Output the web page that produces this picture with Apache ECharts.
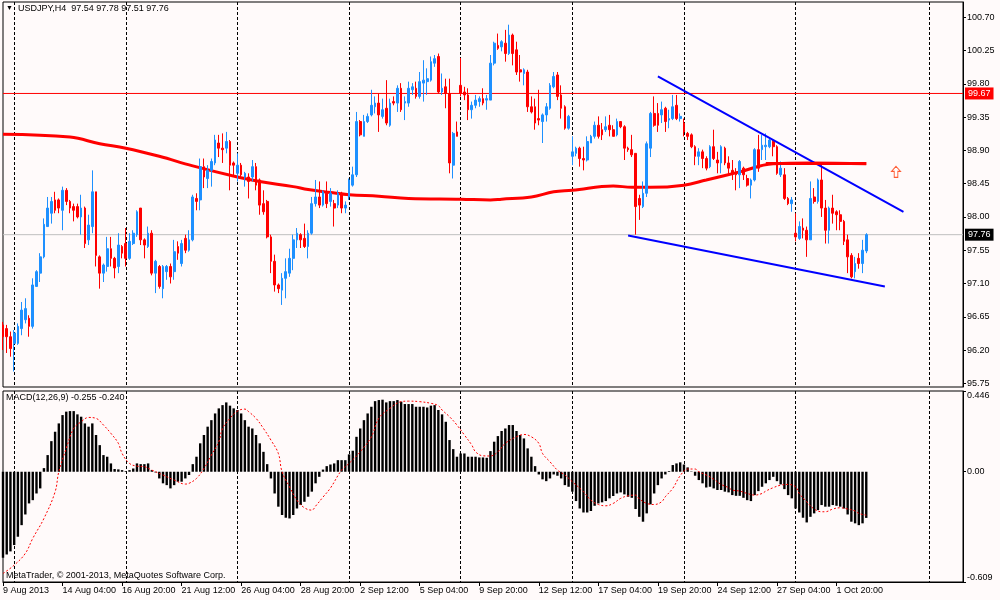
<!doctype html>
<html>
<head>
<meta charset="utf-8">
<title>USDJPY H4</title>
<script src="https://cdn.jsdelivr.net/npm/echarts@6/dist/echarts.min.js"></script>
<style>
  html, body { margin: 0; padding: 0; background: #fffafa; }
  #chart { width: 1000px; height: 600px; }
</style>
</head>
<body>
<div id="chart"></div>
<script>
// H4 bars, 9 Aug 2013 12:00 .. 3 Oct 2013 04:00
var opens = [
  96.54, 96.49, 96.38, 96.29, 96.29, 96.49, 96.61, 96.63, 96.52, 97.06,
  97.24, 97.46, 97.87, 98.05, 98.23, 98.23, 98.09, 98.36, 98.21, 98.14,
  98.14, 98.00, 98.12, 97.69, 97.87, 98.34, 97.46, 97.24, 97.33, 97.57,
  97.44, 97.33, 97.60, 97.64, 97.44, 97.64, 97.76, 98.12, 97.69, 97.60,
  97.78, 97.24, 97.33, 97.03, 97.26, 97.33, 97.26, 97.60, 97.37, 97.71,
  97.55, 97.69, 98.25, 98.23, 98.68, 98.52, 98.63, 98.73, 99.00, 98.93,
  98.93, 99.02, 98.73, 98.59, 98.70, 98.54, 98.54, 98.54, 98.68, 98.50,
  98.18, 98.21, 97.73, 97.40, 97.08, 97.01, 97.17, 97.24, 97.44, 97.69,
  97.76, 97.71, 97.60, 97.78, 98.18, 98.27, 98.16, 98.32, 98.21, 98.18,
  98.16, 98.32, 98.12, 98.27, 98.43, 98.57, 99.29, 99.09, 99.29, 99.38,
  99.49, 99.54, 99.36, 99.47, 99.24, 99.56, 99.54, 99.74, 99.54, 99.54,
  99.72, 99.74, 99.63, 99.81, 99.83, 99.85, 100.08, 100.17, 99.69, 99.76,
  99.67, 98.70, 99.15, 99.78, 99.69, 99.65, 99.45, 99.51, 99.56, 99.60,
  99.58, 99.58, 100.08, 100.32, 100.30, 100.35, 100.21, 100.46, 100.26, 99.99,
  99.94, 99.96, 99.49, 99.49, 99.33, 99.29, 99.38, 99.47, 99.76, 99.92,
  99.65, 99.49, 99.20, 98.82, 98.86, 98.93, 98.79, 98.77, 99.00, 99.09,
  99.24, 99.18, 99.18, 99.24, 99.18, 99.11, 99.29, 99.22, 98.93, 98.91,
  98.86, 98.25, 98.14, 98.32, 98.93, 99.40, 99.40, 99.38, 99.47, 99.31,
  99.33, 99.51, 99.33, 99.27, 99.13, 99.11, 98.95, 98.82, 98.88, 98.79,
  98.68, 98.95, 98.77, 98.73, 98.93, 98.73, 98.63, 98.61, 98.57, 98.66,
  98.52, 98.43, 98.50, 98.91, 98.91, 98.95, 98.95, 99.02, 98.95, 98.57,
  98.57, 98.25, 98.18, 97.78, 97.71, 97.85, 97.82, 97.69, 98.27, 98.21,
  98.50, 98.12, 97.82, 98.12, 98.07, 98.03, 97.94, 97.69, 97.48, 97.26,
  97.44, 97.37, 97.54
];
var highs = [
  96.58, 96.54, 96.45, 96.47, 96.56, 96.85, 96.90, 96.67, 97.17, 97.28,
  97.51, 97.98, 98.27, 98.27, 98.34, 98.25, 98.41, 98.39, 98.23, 98.18,
  98.18, 98.30, 98.14, 98.03, 98.63, 98.34, 97.48, 97.37, 97.73, 97.73,
  97.46, 97.78, 97.62, 97.85, 97.78, 97.82, 98.09, 98.12, 97.71, 97.87,
  97.82, 97.42, 97.35, 97.35, 97.35, 97.37, 97.69, 97.67, 97.69, 97.76,
  97.82, 98.30, 98.32, 98.79, 98.79, 98.70, 98.79, 99.11, 99.11, 99.13,
  99.15, 99.04, 98.75, 98.86, 98.73, 98.61, 98.59, 98.77, 98.73, 98.52,
  98.36, 98.23, 97.76, 97.49, 97.10, 97.24, 97.44, 97.57, 97.76, 97.85,
  97.78, 97.91, 97.82, 98.27, 98.50, 98.48, 98.36, 98.48, 98.39, 98.23,
  98.36, 98.34, 98.21, 98.52, 98.68, 99.42, 99.31, 99.38, 99.40, 99.72,
  99.63, 99.67, 99.60, 99.85, 99.60, 99.63, 99.78, 99.81, 99.63, 99.83,
  99.81, 99.83, 99.96, 100.12, 100.01, 100.17, 100.19, 100.21, 99.94, 99.87,
  99.87, 99.15, 99.29, 100.15, 99.76, 99.74, 99.56, 99.65, 99.63, 99.74,
  99.65, 100.19, 100.37, 100.48, 100.39, 100.53, 100.60, 100.48, 100.37, 100.19,
  100.01, 99.99, 99.63, 99.60, 99.72, 99.40, 99.54, 99.81, 99.96, 99.96,
  99.78, 99.51, 99.38, 99.09, 98.95, 98.95, 98.95, 99.09, 99.11, 99.29,
  99.36, 99.27, 99.36, 99.38, 99.24, 99.33, 99.29, 99.24, 98.95, 99.11,
  98.86, 98.30, 98.48, 99.02, 99.42, 99.63, 99.54, 99.56, 99.49, 99.45,
  99.65, 99.65, 99.40, 99.33, 99.15, 99.13, 98.97, 98.93, 98.91, 98.82,
  98.97, 99.18, 98.88, 98.97, 98.95, 98.82, 98.77, 98.66, 98.77, 98.68,
  98.57, 98.52, 98.93, 99.11, 99.11, 99.13, 99.06, 99.04, 98.97, 98.75,
  98.66, 98.27, 98.27, 98.05, 97.94, 97.98, 97.87, 98.48, 98.39, 98.52,
  98.73, 98.23, 98.14, 98.30, 98.09, 98.09, 97.96, 97.76, 97.51, 97.46,
  97.51, 97.69, 97.78
];
var lows = [
  96.20, 96.16, 96.11, 95.91, 96.27, 96.40, 96.56, 96.38, 96.49, 97.06,
  97.12, 97.44, 97.87, 97.91, 98.05, 98.05, 97.82, 98.16, 98.05, 97.94,
  97.98, 97.76, 97.58, 97.62, 97.78, 97.33, 97.03, 97.12, 97.26, 97.33,
  97.17, 97.24, 97.44, 97.33, 97.42, 97.62, 97.73, 97.62, 97.44, 97.58,
  97.21, 96.97, 97.03, 96.90, 97.15, 97.10, 97.15, 97.42, 97.33, 97.51,
  97.53, 97.67, 98.09, 98.09, 98.39, 98.39, 98.41, 98.70, 98.81, 98.73,
  98.86, 98.36, 98.54, 98.48, 98.52, 98.41, 98.25, 98.48, 98.36, 98.03,
  98.03, 97.71, 97.24, 96.99, 96.97, 96.81, 96.90, 97.19, 97.28, 97.58,
  97.58, 97.58, 97.44, 97.76, 98.14, 98.12, 98.14, 98.12, 98.14, 97.87,
  98.12, 98.05, 98.05, 98.23, 98.41, 98.54, 99.09, 99.09, 99.27, 99.36,
  99.40, 99.15, 99.33, 99.24, 99.22, 99.51, 99.42, 99.42, 99.31, 99.49,
  99.65, 99.60, 99.60, 99.56, 99.65, 99.83, 100.03, 99.67, 99.65, 99.47,
  98.59, 98.52, 99.09, 99.63, 99.58, 99.31, 99.33, 99.47, 99.49, 99.51,
  99.45, 99.58, 100.05, 100.26, 100.24, 100.10, 100.19, 100.05, 99.92, 99.83,
  99.78, 99.42, 99.40, 99.18, 99.24, 99.00, 99.29, 99.45, 99.74, 99.58,
  99.33, 99.18, 99.18, 98.70, 98.82, 98.68, 98.63, 98.75, 99.00, 99.06,
  99.06, 99.04, 99.15, 99.09, 99.09, 99.09, 99.20, 98.77, 98.88, 98.81,
  97.76, 97.96, 98.12, 98.27, 98.81, 99.22, 99.15, 99.27, 99.15, 99.20,
  99.31, 99.31, 99.29, 99.09, 99.04, 98.93, 98.70, 98.70, 98.66, 98.63,
  98.66, 98.77, 98.59, 98.59, 98.70, 98.57, 98.50, 98.36, 98.39, 98.50,
  98.41, 98.25, 98.48, 98.61, 98.77, 98.77, 98.93, 98.82, 98.57, 98.54,
  98.23, 98.16, 98.07, 97.67, 97.69, 97.71, 97.46, 97.69, 98.18, 98.18,
  98.00, 97.64, 97.64, 97.91, 97.82, 97.82, 97.62, 97.24, 97.17, 97.17,
  97.30, 97.24, 97.51
];
var closes = [
  96.38, 96.38, 96.22, 96.43, 96.52, 96.74, 96.76, 96.52, 97.08, 97.26,
  97.46, 97.90, 98.12, 98.21, 98.09, 98.12, 98.36, 98.21, 98.12, 98.09,
  98.00, 98.12, 97.64, 97.89, 98.34, 97.48, 97.24, 97.35, 97.57, 97.44,
  97.31, 97.62, 97.51, 97.44, 97.67, 97.78, 98.07, 97.69, 97.62, 97.78,
  97.24, 97.40, 97.06, 97.33, 97.33, 97.19, 97.53, 97.51, 97.64, 97.55,
  97.69, 98.27, 98.21, 98.68, 98.54, 98.63, 98.75, 99.04, 98.93, 98.91,
  99.02, 98.70, 98.70, 98.70, 98.57, 98.59, 98.48, 98.68, 98.43, 98.16,
  98.07, 97.73, 97.40, 97.08, 97.03, 97.17, 97.26, 97.44, 97.69, 97.78,
  97.69, 97.60, 97.78, 98.18, 98.27, 98.16, 98.34, 98.18, 98.32, 98.12,
  98.32, 98.12, 98.16, 98.50, 98.57, 99.29, 99.11, 99.29, 99.36, 99.51,
  99.54, 99.38, 99.45, 99.27, 99.54, 99.54, 99.74, 99.45, 99.56, 99.74,
  99.76, 99.63, 99.83, 99.85, 99.87, 100.10, 100.14, 99.69, 99.74, 99.67,
  98.73, 99.13, 99.09, 99.67, 99.65, 99.45, 99.51, 99.58, 99.60, 99.54,
  99.60, 100.08, 100.35, 100.28, 100.37, 100.21, 100.46, 100.21, 99.96, 99.96,
  99.99, 99.49, 99.42, 99.27, 99.31, 99.38, 99.49, 99.78, 99.90, 99.63,
  99.47, 99.20, 99.36, 98.88, 98.93, 98.79, 98.77, 99.02, 99.09, 99.24,
  99.09, 99.11, 99.22, 99.18, 99.09, 99.29, 99.22, 98.93, 98.91, 98.84,
  98.14, 98.16, 98.32, 98.99, 99.40, 99.24, 99.24, 99.45, 99.29, 99.33,
  99.49, 99.33, 99.36, 99.15, 99.09, 98.95, 98.82, 98.88, 98.79, 98.66,
  98.95, 98.79, 98.73, 98.95, 98.73, 98.66, 98.59, 98.57, 98.75, 98.57,
  98.43, 98.50, 98.91, 98.66, 98.97, 98.97, 99.04, 98.95, 98.59, 98.66,
  98.25, 98.18, 98.23, 97.73, 97.87, 97.82, 97.69, 98.25, 98.21, 98.50,
  98.12, 97.82, 98.12, 98.05, 98.03, 97.94, 97.67, 97.46, 97.19, 97.37,
  97.37, 97.55, 97.76
];

// MACD(12,26,9) main line, drawn as histogram
var macdHist = [
  -0.475, -0.457, -0.440, -0.405, -0.359, -0.295, -0.236, -0.175, -0.157, -0.120,
  -0.092, 0.020, 0.092, 0.169, 0.221, 0.267, 0.313, 0.332, 0.335, 0.335,
  0.317, 0.304, 0.267, 0.249, 0.267, 0.203, 0.147, 0.092, 0.083, 0.046,
  0.015, 0.013, 0.009, 0.004, 0.009, 0.018, 0.046, 0.042, 0.042, 0.046,
  0.009, -0.004, -0.037, -0.064, -0.074, -0.092, -0.074, -0.055, -0.055, -0.037,
  -0.018, 0.042, 0.083, 0.157, 0.203, 0.249, 0.285, 0.322, 0.350, 0.368,
  0.383, 0.365, 0.350, 0.341, 0.322, 0.285, 0.249, 0.239, 0.203, 0.157,
  0.110, 0.042, -0.037, -0.120, -0.193, -0.239, -0.254, -0.258, -0.239, -0.203,
  -0.184, -0.166, -0.138, -0.110, -0.064, -0.028, 0.012, 0.031, 0.040, 0.046,
  0.064, 0.064, 0.064, 0.096, 0.116, 0.193, 0.239, 0.285, 0.322, 0.359,
  0.390, 0.396, 0.398, 0.383, 0.390, 0.390, 0.396, 0.387, 0.374, 0.374,
  0.374, 0.359, 0.359, 0.359, 0.355, 0.365, 0.368, 0.341, 0.317, 0.276,
  0.175, 0.125, 0.083, 0.101, 0.101, 0.083, 0.083, 0.083, 0.079, 0.079,
  0.077, 0.114, 0.166, 0.197, 0.225, 0.239, 0.258, 0.258, 0.225, 0.203,
  0.184, 0.129, 0.083, 0.031, -0.015, -0.042, -0.052, -0.037, -0.015, -0.022,
  -0.037, -0.074, -0.083, -0.110, -0.162, -0.203, -0.225, -0.225, -0.217, -0.188,
  -0.175, -0.169, -0.162, -0.147, -0.134, -0.120, -0.114, -0.125, -0.138, -0.144,
  -0.206, -0.249, -0.276, -0.230, -0.180, -0.120, -0.074, -0.037, -0.015, 0.004,
  0.037, 0.046, 0.052, 0.040, 0.024, 0.002, -0.022, -0.046, -0.064, -0.087,
  -0.083, -0.092, -0.101, -0.101, -0.110, -0.114, -0.129, -0.133, -0.133, -0.144,
  -0.157, -0.162, -0.129, -0.107, -0.083, -0.064, -0.046, -0.028, -0.052, -0.070,
  -0.096, -0.129, -0.147, -0.203, -0.225, -0.254, -0.280, -0.249, -0.230, -0.212,
  -0.184, -0.193, -0.193, -0.184, -0.188, -0.193, -0.203, -0.236, -0.276, -0.285,
  -0.295, -0.285, -0.255
];

// signal line, read at [bar, value]
var signalPts = [
  [0, -0.562], [3, -0.516], [6, -0.451], [8, -0.368], [11, -0.258], [14, -0.111],
  [15, 0.000], [17, 0.129], [19, 0.239], [21, 0.276], [23, 0.300], [25, 0.295],
  [27, 0.258], [29, 0.212], [31, 0.157], [32, 0.101], [34, 0.046], [36, 0.031],
  [38, 0.028], [40, 0.009], [43, -0.018], [46, -0.046], [49, -0.068], [50, -0.064],
  [52, -0.037], [54, 0.018], [56, 0.092], [58, 0.166], [59, 0.239], [61, 0.295],
  [63, 0.335], [65, 0.346], [66, 0.332], [68, 0.295], [70, 0.239], [72, 0.175],
  [74, 0.101], [75, 0.000], [77, -0.083], [79, -0.157], [81, -0.199], [83, -0.212],
  [84, -0.190], [86, -0.140], [88, -0.090], [91, 0.009], [93, 0.046], [96, 0.110],
  [99, 0.193], [101, 0.295], [104, 0.350], [107, 0.387], [109, 0.390], [112, 0.387],
  [115, 0.378], [117, 0.365], [118, 0.341], [120, 0.304], [122, 0.258], [124, 0.203],
  [126, 0.147], [127, 0.110], [129, 0.088], [131, 0.087], [133, 0.110], [135, 0.157],
  [138, 0.193], [140, 0.206], [142, 0.193], [144, 0.157], [145, 0.101], [147, 0.055],
  [149, 0.009], [151, -0.018], [153, -0.055], [156, -0.110], [158, -0.157], [160, -0.181],
  [162, -0.188], [164, -0.175], [166, -0.147], [168, -0.133], [170, -0.129], [171, -0.150],
  [173, -0.175], [175, -0.181], [177, -0.166], [178, -0.138], [180, -0.092], [182, -0.022],
  [184, 0.015], [186, 0.015], [187, 0.000], [189, -0.018], [191, -0.041], [193, -0.070],
  [195, -0.088], [196, -0.101], [198, -0.107], [200, -0.120], [202, -0.129], [204, -0.120],
  [205, -0.107], [207, -0.088], [209, -0.074], [211, -0.070], [213, -0.083], [214, -0.120],
  [216, -0.166], [218, -0.206], [220, -0.221], [221, -0.221], [223, -0.206], [225, -0.199],
  [227, -0.206], [229, -0.217], [230, -0.230], [231, -0.236], [232, -0.240]
];

// thick red moving average, read at [bar, price]
var maPts = [
  [0, 99.12], [18, 99.08], [26, 98.99], [33, 98.93], [42, 98.82], [51, 98.69],
  [63, 98.54], [69, 98.48], [78, 98.41], [82, 98.37], [88, 98.33], [93, 98.30],
  [101, 98.28], [109, 98.25], [123, 98.24], [131, 98.23], [134, 98.24], [142, 98.27],
  [148, 98.34], [153, 98.36], [164, 98.42], [169, 98.40], [174, 98.40], [183, 98.43],
  [189, 98.50], [198, 98.61], [207, 98.72], [217, 98.73], [232, 98.72]
];

// drawn objects
var upperTrend = [[176, 99.90], [242, 98.07]];
var lowerTrend = [[168, 97.75], [237, 97.06]];
var flatLine = [[205, 98.72], [232, 98.72]];
var resistLevel = 99.67;
var arrowPt = [240, 98.61];

var priceTicks = [95.75, 96.20, 96.65, 97.10, 97.55, 98.00, 98.45, 98.90, 99.35, 99.80, 100.25, 100.70];
var macdTicks = [-0.609, 0, 0.446];
var tickLabels = ['9 Aug 2013', '14 Aug 04:00', '16 Aug 20:00', '21 Aug 12:00', '26 Aug 04:00',
  '28 Aug 20:00', '2 Sep 12:00', '5 Sep 04:00', '9 Sep 20:00', '12 Sep 12:00', '17 Sep 04:00',
  '19 Sep 20:00', '24 Sep 12:00', '27 Sep 04:00', '1 Oct 20:00'];
var labelStep = 16;
var sepIdx = [3, 33, 63, 93, 123, 153, 183, 213, 249];   // Monday 00:00 separators
var nSlots = 259;

var FONT = '"Liberation Sans", Arial, sans-serif';
var nBars = opens.length;
var lastClose = closes[nBars - 1];

var cats = [];
for (var i = 0; i < nSlots; i++) cats.push(String(i));
var candles = opens.map(function (o, i) { return [o, closes[i], lows[i], highs[i]]; });
var labelAt = {};
tickLabels.forEach(function (t, k) { labelAt[k * labelStep] = t; });
function isLabel(idx) { return labelAt[idx] !== undefined; }
function isSep(idx) { return sepIdx.indexOf(idx) >= 0; }

var sepLine = { show: true, interval: isSep, lineStyle: { color: '#000', width: 1, type: [3, 2] } };
function segment(pts, color, width) {
  var st = { color: color, width: width, type: 'solid' };
  return [{ coord: pts[0], lineStyle: st, label: { show: false } },
          { coord: pts[1], lineStyle: st, label: { show: false } }];
}
// full-width horizontal price level with a boxed value on the price scale
function levelSeries(name, value, color, bg) {
  return {
    type: 'line', name: name, xAxisIndex: 0, yAxisIndex: 0,
    data: [[0, value], [nSlots - 1, value]],
    symbol: 'none', silent: true, z: 1, color: color,
    lineStyle: { color: color, width: 1, type: 'solid' },
    endLabel: { show: true, formatter: value.toFixed(2), color: '#fff', backgroundColor: bg,
                padding: [2, 3, 1, 3], fontSize: 9, fontFamily: FONT, distance: 2 }
  };
}

var chart = echarts.init(document.getElementById('chart'));
chart.setOption({
  animation: false,
  backgroundColor: '#fffafa',
  title: [
    { text: '{t|▼}  USDJPY,H4  97.54 97.78 97.51 97.76', left: 6, top: 4, padding: 0,
      textStyle: { fontSize: 9, fontWeight: 'normal', color: '#000', fontFamily: FONT,
                   rich: { t: { fontSize: 7, color: '#000' } } } },
    { text: 'MACD(12,26,9) -0.255 -0.240', left: 6, top: 393, padding: 0,
      textStyle: { fontSize: 9, fontWeight: 'normal', color: '#000', fontFamily: FONT } },
    { text: 'MetaTrader, © 2001-2013, MetaQuotes Software Corp.', left: 6, top: 571, padding: 0,
      textStyle: { fontSize: 9, fontWeight: 'normal', color: '#000', fontFamily: FONT } }
  ],
  grid: [
    { left: 3, right: 37, top: 2, height: 385, show: true, borderColor: '#000', borderWidth: 1, backgroundColor: '#fffafa' },
    { left: 3, right: 37, top: 391, height: 191, show: true, borderColor: '#000', borderWidth: 1, backgroundColor: '#fffafa' }
  ],
  xAxis: [
    { type: 'category', gridIndex: 0, data: cats, boundaryGap: false,
      axisLine: { show: false }, axisTick: { show: false }, axisLabel: { show: false },
      splitLine: sepLine },
    { type: 'category', gridIndex: 1, data: cats, boundaryGap: false,
      axisLine: { show: true, onZero: false, lineStyle: { color: '#000' } },
      axisTick: { show: true, interval: isLabel, length: 4, lineStyle: { color: '#000' } },
      axisLabel: { show: true, interval: isLabel, align: 'left', margin: 4,
                   fontSize: 9, color: '#000', fontFamily: FONT,
                   formatter: function (v, idx) { return labelAt[idx] || ''; } },
      splitLine: sepLine }
  ],
  yAxis: [
    { type: 'value', gridIndex: 0, position: 'right', min: 95.70, max: 100.907, scale: true,
      axisLine: { show: true, lineStyle: { color: '#000' } },
      axisTick: { show: true, length: 3, customValues: priceTicks, lineStyle: { color: '#000' } },
      axisLabel: { customValues: priceTicks, margin: 4, fontSize: 9, color: '#000', fontFamily: FONT,
                   formatter: function (v) { return v.toFixed(2); } },
      splitLine: { show: false } },
    { type: 'value', gridIndex: 1, position: 'right', min: -0.609, max: 0.446,
      axisLine: { show: true, lineStyle: { color: '#000' } },
      axisTick: { show: true, length: 3, customValues: macdTicks, lineStyle: { color: '#000' } },
      axisLabel: { customValues: macdTicks, margin: 4, fontSize: 9, color: '#000', fontFamily: FONT,
                   verticalAlignMinLabel: 'bottom', verticalAlignMaxLabel: 'top',
                   formatter: function (v) { return v === 0 ? '0.00' : v.toFixed(3); } },
      splitLine: { show: false } }
  ],
  series: [
    levelSeries('Resistance', resistLevel, '#ff0000', '#ff0000'),
    levelSeries('Last', lastClose, '#c0c0c0', '#000000'),
    { type: 'line', name: 'MA', xAxisIndex: 0, yAxisIndex: 0, data: maPts,
      symbol: 'none', smooth: 0.4, color: '#ff0000', lineStyle: { color: '#ff0000', width: 3 }, z: 1 },
    { type: 'candlestick', name: 'USDJPY', xAxisIndex: 0, yAxisIndex: 0, data: candles,
      barWidth: 2.2, z: 2,
      itemStyle: { color: '#1e90ff', color0: '#ff0000', borderColor: '#1e90ff', borderColor0: '#ff0000', borderWidth: 1 },
      markLine: {
        silent: true, symbol: ['none', 'none'], animation: false,
        data: [
          segment(upperTrend, '#0000ff', 2),
          segment(lowerTrend, '#0000ff', 2),
          segment(flatLine, '#ff0000', 3)
        ]
      } },
    { type: 'scatter', name: 'arrow', xAxisIndex: 0, yAxisIndex: 0, data: [arrowPt],
      symbol: 'path://M5,0 L10,5 L7,5 L7,11 L3,11 L3,5 L0,5 Z', symbolSize: [9, 11],
      itemStyle: { color: '#fff', borderColor: '#ff3300', borderWidth: 1 }, z: 3 },
    { type: 'bar', name: 'MACD', xAxisIndex: 1, yAxisIndex: 1, data: macdHist,
      barWidth: 2.4, itemStyle: { color: '#000' } },
    { type: 'line', name: 'Signal', xAxisIndex: 1, yAxisIndex: 1, data: signalPts,
      symbol: 'none', smooth: 0.4, lineStyle: { color: '#ff0000', width: 1, type: [2, 2] } }
  ]
});
</script>
</body>
</html>
